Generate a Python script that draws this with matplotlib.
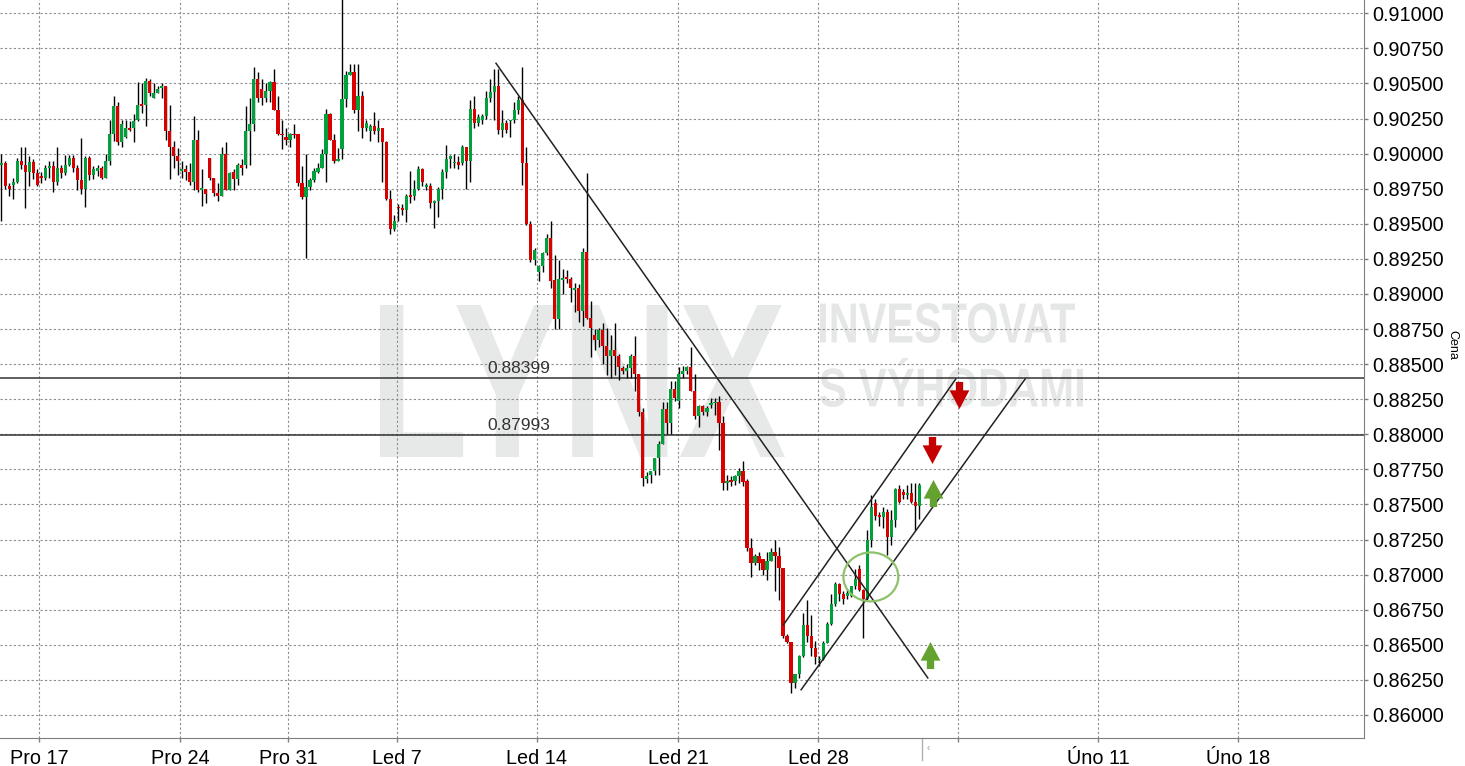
import numpy as np
import matplotlib
matplotlib.use('Agg')
import matplotlib.pyplot as plt
from matplotlib.patches import Ellipse, PathPatch
from matplotlib.path import Path
from matplotlib.textpath import TextPath
from matplotlib.font_manager import FontProperties
from matplotlib.transforms import Affine2D, blended_transform_factory
from matplotlib.lines import Line2D

plt.rcParams['font.family'] = ['Liberation Sans', 'DejaVu Sans']

# candle data (EUR/GBP style quotes), one candle per bar
opens = [
    .8992, .8993, .8977, .8978, .8980, .8995, .8992, .8987, .8994, .8986,
    .8984, .8983, .8990, .8991, .8980, .8990, .8986, .8992, .8997, .8990,
    .8981, .8975, .8997, .8985, .8988, .8990, .8983, .8995, .9014, .9034,
    .9008, .9012, .9018, .9018, .9024, .9035, .9035, .9052, .9040, .9043,
    .9047, .9048, .9016, .9005, .8998, .8988, .8989, .8987, .8980, .9010,
    .8974, .8975, .8997, .8983, .8972, .8970, .9000, .8974, .8987, .8982,
    .8992, .8992, .9016, .9021, .9053, .9046, .9040, .9045, .9051, .9031,
    .9014, .9012, .9010, .9014, .9014, .8979, .8969, .8976, .8981, .8987,
    .8990, .9000, .9028, .9010, .8995, .9003, .9039, .9056, .9058, .9031,
    .9041, .9018, .9016, .9020, .9016, .9018, .9008, .8968, .8946, .8962,
    .8961, .8960, .8970, .8970, .8975, .8989, .8976, .8977, .8965, .8966,
    .8975, .8987, .8996, .8993, .8994, .8993, .9005, .8995, .9032, .9022,
    .9024, .9027, .9040, .9044, .9048, .9017, .9022, .9023, .9024, .9031,
    .9038, .8993, .8950, .8924, .8916, .8920, .8929, .8940,
    .8910, .8882, .8910, .8912, .8911, .8903, .8904, .8888, .8930, .8883, .8871, .8867,
    .8874, .8863, .8856, .8860, .8856, .8847, .8845, .8847, .8856, .8843,
    .8816, .8768, .8771, .8774, .8783, .8793, .8818, .8808, .8832, .8824,
    .8843, .8845, .8848, .8831, .8813, .8820, .8816, .8821, .8822, .8823,
    .8808, .8765, .8767, .8767, .8770, .8774,
    .8767, .8719, .8708, .8713, .8711, .8703, .8710, .8716, .8713, .8705,
    .8656, .8652, .8623, .8629, .8642, .8664, .8656, .8648, .8639, .8640, .8651, .8665, .8679,
    .8693, .8686, .8685, .8685, .8692, .8704, .8689, .8683, .8725, .8751, .8742,
    .8741, .8745, .8727, .8739, .8761, .8759, .8757, .8758, .8752, .8749,
]
highs = [
    .9000, .8995, .8979, .8983, .8997, .9005, .9005, .8998, .8996, .8989,
    .8987, .8992, .8995, .8995, .9005, .8992, .8999, .8999, .8999, .8992,
    .9011, .8998, .8998, .8991, .8992, .8991, .9000, .9024, .9041, .9037,
    .9024, .9024, .9023, .9028, .9051, .9050, .9054, .9053, .9050, .9048,
    .9050, .9048, .9035, .9009, .9004, .8995, .8992, .8993, .9027, .9017,
    .8989, .8975, .8997, .8983, .8979, .9005, .9008, .8987, .8989, .8993,
    .8996, .9034, .9040, .9062, .9058, .9053, .9050, .9052, .9060, .9041,
    .9024, .9018, .9015, .9021, .9014, .8991, .9000, .8983, .8990, .8993,
    .9003, .9032, .9029, .9014, .9004, .9130, .9059, .9064, .9064, .9064,
    .9045, .9024, .9021, .9030, .9024, .9018, .9009, .8974, .8956, .8964,
    .8964, .8971, .8988, .8981, .8991, .8990, .8979, .8979, .8967, .8976,
    .8989, .9006, .8999, .9000, .8998, .9006, .9005, .9038, .9041, .9028,
    .9028, .9045, .9053, .9060, .9060, .9031, .9024, .9024, .9037, .9041,
    .9062, .9005, .8952, .8933, .8921, .8930, .8943, .8952,
    .8928, .8924, .8918, .8917, .8912, .8908, .8907, .8933, .8986, .8895, .8875, .8876,
    .8879, .8876, .8871, .8879, .8857, .8849, .8850, .8857, .8870, .8843,
    .8819, .8773, .8774, .8783, .8795, .8823, .8823, .8838, .8838, .8848,
    .8849, .8849, .8862, .8843, .8821, .8821, .8820, .8826, .8826, .8827,
    .8813, .8771, .8770, .8771, .8776, .8781,
    .8768, .8726, .8715, .8716, .8711, .8716, .8719, .8725, .8720, .8705,
    .8658, .8652, .8629, .8643, .8673, .8682, .8671, .8653, .8642, .8653, .8666, .8686, .8695,
    .8694, .8688, .8689, .8692, .8704, .8707, .8690, .8732, .8757, .8754, .8745,
    .8748, .8747, .8746, .8762, .8764, .8761, .8764, .8765, .8765, .8765,
]
lows = [
    .8952, .8975, .8970, .8968, .8979, .8989, .8961, .8977, .8982, .8977,
    .8979, .8981, .8983, .8973, .8978, .8983, .8985, .8991, .8987, .8974,
    .8971, .8962, .8981, .8982, .8984, .8982, .8983, .8992, .9009, .9006,
    .9005, .9011, .9016, .9008, .9023, .9029, .9020, .9041, .9040, .9043,
    .9040, .9010, .8982, .8990, .8985, .8983, .8981, .8978, .8974, .8973,
    .8963, .8965, .8981, .8970, .8966, .8970, .8974, .8974, .8974, .8978,
    .8985, .8990, .8992, .9016, .9037, .9035, .9037, .9037, .9031, .9013,
    .9003, .9006, .9005, .9011, .8977, .8968, .8926, .8974, .8980, .8986,
    .8990, .8980, .9010, .8993, .8995, .8996, .9033, .9056, .9029, .9016,
    .9011, .9016, .9009, .9014, .9008, .8980, .8967, .8943, .8945, .8952,
    .8956, .8951, .8965, .8967, .8974, .8977, .8974, .8961, .8947, .8955,
    .8968, .8983, .8990, .8990, .8989, .8992, .8975, .8980, .9018, .9020,
    .9021, .9025, .9037, .9024, .9014, .9012, .9015, .9012, .9022, .9028,
    .8978, .8949, .8923, .8921, .8909, .8916, .8928, .8904,
    .8875, .8875, .8900, .8908, .8894, .8887, .8880, .8877, .8882, .8855, .8860, .8862,
    .8850, .8842, .8840, .8842, .8839, .8843, .8840, .8840, .8831, .8813,
    .8763, .8765, .8765, .8771, .8771, .8793, .8800, .8800, .8824, .8819,
    .8840, .8843, .8831, .8811, .8805, .8814, .8813, .8819, .8814, .8789,
    .8760, .8760, .8763, .8764, .8765, .8763,
    .8717, .8698, .8707, .8703, .8700, .8696, .8710, .8688, .8682, .8655,
    .8651, .8616, .8619, .8626, .8641, .8652, .8642, .8636, .8635, .8639, .8651, .8664, .8678,
    .8681, .8679, .8683, .8684, .8690, .8688, .8655, .8682, .8720, .8739, .8735,
    .8733, .8714, .8721, .8734, .8751, .8754, .8754, .8751, .8732, .8740,
]
closes = [
    .8993, .8977, .8975, .8980, .8995, .8992, .8987, .8994, .8986, .8978,
    .8983, .8990, .8991, .8980, .8990, .8986, .8992, .8997, .8990, .8981,
    .8975, .8997, .8985, .8989, .8990, .8983, .8995, .9014, .9034, .9008,
    .9021, .9018, .9017, .9023, .9035, .9034, .9052, .9043, .9043, .9046,
    .9048, .9016, .9005, .8998, .8995, .8989, .8987, .8980, .9010, .8974,
    .8975, .8971, .8983, .8972, .8970, .9000, .8974, .8986, .8982, .8992,
    .8990, .9016, .9021, .9053, .9040, .9040, .9045, .9051, .9031, .9014,
    .9013, .9010, .9014, .9013, .8979, .8969, .8976, .8981, .8988, .8990,
    .9000, .9028, .9010, .8995, .8996, .9039, .9056, .9058, .9031, .9041,
    .9018, .9022, .9020, .9016, .9018, .9008, .8968, .8946, .8952, .8961,
    .8960, .8970, .8969, .8975, .8989, .8980, .8978, .8965, .8966, .8975,
    .8987, .8996, .8998, .8994, .8992, .9005, .8995, .9032, .9022, .9026,
    .9027, .9040, .9044, .9048, .9017, .9022, .9017, .9024, .9031, .9038,
    .8993, .8950, .8924, .8931, .8920, .8929, .8940, .8909,
    .8882, .8911, .8911, .8911, .8904, .8904, .8888, .8930, .8883, .8876, .8867, .8874,
    .8863, .8856, .8860, .8856, .8848, .8845, .8847, .8856, .8843, .8816,
    .8769, .8770, .8774, .8783, .8793, .8818, .8808, .8832, .8826, .8843,
    .8845, .8848, .8831, .8813, .8820, .8816, .8819, .8822, .8823, .8808,
    .8765, .8767, .8766, .8770, .8774, .8766,
    .8719, .8708, .8713, .8708, .8703, .8710, .8716, .8713, .8705, .8656,
    .8652, .8623, .8629, .8642, .8664, .8656, .8648, .8641, .8640, .8651, .8665, .8679, .8693,
    .8686, .8683, .8687, .8692, .8697, .8689, .8683, .8725, .8748, .8742, .8741,
    .8745, .8727, .8739, .8761, .8752, .8757, .8758, .8752, .8749, .8764,
]

# date ticks (position in bars)
tick_pos = [9.4, 44.6, 71.5, 98.7, 133.6, 168.8, 203.7, 238.6, 273.6, 308.5]
tick_labels = ['Pro 17', 'Pro 24', 'Pro 31', 'Led 7', 'Led 14', 'Led 21',
               'Led 28', '', 'Úno 11', 'Úno 18']

# drawn analysis
levels = [0.88399, 0.87993]
level_label_x = 121.2
trend_down_x, trend_down_y = [123.4, 231.1], [0.90644, 0.86264]
chan_up_x, chan_up_y = [195.1, 238.1], [0.86643, 0.88395]
chan_lo_x, chan_lo_y = [199.5, 255.4], [0.86180, 0.88395]
circle_x, circle_y, circle_w, circle_h = 216.9, 0.86984, 13.7, 0.00349
down_x, down_y = [239.0, 232.1], [0.88278, 0.87888]
up_x, up_y = [232.3, 231.6], [0.87583, 0.86426]

o = np.array(opens); h = np.array(highs); l = np.array(lows); c = np.array(closes)
x = np.arange(len(o))

W, H = 1465, 766
fig = plt.figure(figsize=(W / 100, H / 100), dpi=100)
ax = fig.add_axes([0, 1 - 738 / H, 1364 / W, 738 / H])


def stamp(txt, x0, x1, top, bottom, color):
    tp = TextPath((0, 0), txt, size=100,
                  prop=FontProperties(family='Liberation Sans', weight='bold'))
    bb = tp.get_extents()
    tr = (Affine2D().translate(-bb.x0, -bb.y0)
          .scale((x1 - x0) / bb.width, (bottom - top) / bb.height)
          .translate(x0, H - bottom))
    ax.add_artist(PathPatch(tp, transform=tr, fc=color, ec='none', zorder=0.2))


stamp('LYNX', 380, 785, 305, 457, '#e7e8e8')
stamp('INVESTOVAT', 820, 1075, 303, 343, '#e5e6e6')
stamp('S VÝHODAMI', 820, 1083, 358, 407, '#e5e6e6')

# candles
up = c >= o
ax.vlines(x, l, h, color='black', lw=1.0, zorder=2)
body_lo = np.minimum(o, c)
body_h = np.maximum(np.abs(c - o), 0.00012)
ax.bar(x[up], body_h[up], width=0.8, bottom=body_lo[up], color='#00a03c', lw=0, zorder=3)
ax.bar(x[~up], body_h[~up], width=0.8, bottom=body_lo[~up], color='#d90000', lw=0, zorder=3)

for lv in levels:
    ax.axhline(lv, color='#333333', lw=1.1, zorder=1.5)
    ax.annotate(f'{lv:.5f}', xy=(level_label_x, lv), xytext=(0, 4),
                textcoords='offset points', va='baseline', ha='left',
                fontsize=12.5, color='#333333')

for xs, ys in [(trend_down_x, trend_down_y), (chan_up_x, chan_up_y), (chan_lo_x, chan_lo_y)]:
    ax.plot(xs, ys, color='#222222', lw=1.1, zorder=4)

ax.add_patch(Ellipse((circle_x, circle_y), circle_w, circle_h, fill=False,
                     ec='#8dc26a', lw=1.6, zorder=4))

codes = [Path.MOVETO] + [Path.LINETO] * 6 + [Path.CLOSEPOLY]
dv = [(-0.135, 0.5), (0.135, 0.5), (0.135, 0.19), (0.365, 0.19),
      (0, -0.5), (-0.365, 0.19), (-0.135, 0.19), (-0.135, 0.5)]
down_arrow = Path(dv, codes)
up_arrow = Path([(px, -py) for px, py in dv], codes)
ax.plot(down_x, down_y, ls='none', marker=down_arrow, ms=19.5, mfc='#c40000', mec='none', zorder=5)
ax.plot(up_x, up_y, ls='none', marker=up_arrow, ms=19.5, mfc='#64a22f', mec='none', zorder=5)

ax.set_xlim(-0.32, 339.9)
ax.set_ylim(0.85836, 0.91095)
ax.yaxis.tick_right()
ax.set_yticks(np.arange(0.86, 0.91001, 0.0025))
ax.yaxis.set_major_formatter(plt.FormatStrFormatter('%.5f'))
ax.set_xticks(tick_pos)
ax.set_xticklabels(tick_labels)
ax.tick_params(axis='both', labelsize=14.3, colors='#7f7f7f', labelcolor='black', length=3, width=1)
ax.tick_params(axis='y', pad=3)
ax.tick_params(axis='x', pad=5)
ax.set_axisbelow(True)
ax.grid(True, color='#8c8c8c', lw=0.8, linestyle=(0, (2, 2)))
for s in ['top', 'left']:
    ax.spines[s].set_visible(False)
for s in ['right', 'bottom']:
    ax.spines[s].set_color('#7f7f7f')

# current-bar marker under the axis
bt = blended_transform_factory(ax.transData, ax.transAxes)
now = len(o) - 0.3
ax.add_line(Line2D([now, now], [0, -0.03], transform=bt, color='#b0b0b0', lw=1, clip_on=False))
ax.text(now + 1, -0.013, '‹', transform=bt, fontsize=7, color='#999999', va='center', clip_on=False)

fig.text(1452 / W, 1 - 345 / H, 'Cena', rotation=270, fontsize=9, ha='center', va='center')

fig.savefig('out.png', dpi=100)
